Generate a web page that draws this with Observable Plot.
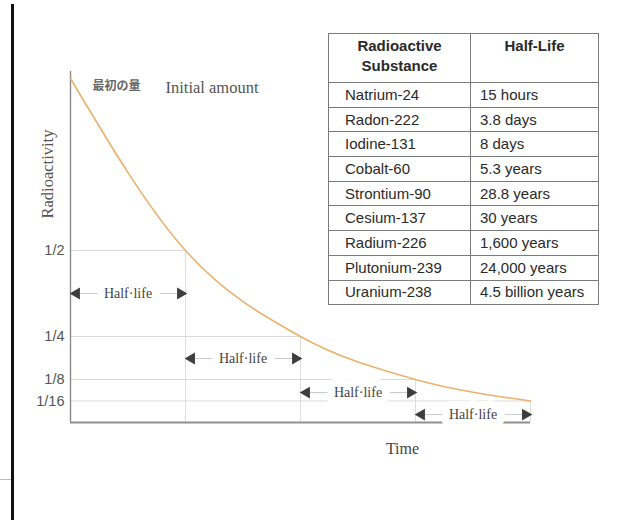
<!DOCTYPE html>
<html>
<head>
<meta charset="utf-8">
<script src="https://cdn.jsdelivr.net/npm/d3@7"></script>
<script src="https://cdn.jsdelivr.net/npm/@observablehq/plot@0.6"></script>
<style>
  html, body { margin: 0; padding: 0; background: #fff; }
  #wrap { position: relative; width: 624px; height: 520px; overflow: hidden; background: #fff; }
  #edge { position: absolute; left: 11px; top: 4px; width: 3px; height: 516px; background: #111; }
  #tick { position: absolute; left: 0; top: 479px; width: 11px; height: 1px; background: #bbb; }
  table.hl { position: absolute; left: 328px; top: 33px; width: 271px; border-collapse: collapse;
    font-family: "Liberation Sans", Arial, sans-serif; font-size: 15px; color: #2a2a2a; }
  table.hl td, table.hl th { border: 1px solid #7a7a7a; padding: 0; box-sizing: border-box; }
  table.hl th { font-weight: bold; vertical-align: top; text-align: center; padding-top: 2px; line-height: 20px; height: 49px; }
  table.hl td { height: 24.7px; line-height: 20px; vertical-align: middle; }
  table.hl td.c1 { padding-left: 16px; width: 142px; }
  table.hl td.c2 { padding-left: 9px; }
</style>
</head>
<body>
<div id="wrap"><div id="edge"></div><div id="tick"></div></div>
<script>
// ---- data ----
const periods = [0, 1, 2, 3, 4];                 // elapsed half-lives
const fractions = [1, 1/2, 1/4, 1/8, 1/16];      // remaining radioactivity
const tickLabels = ["1", "1/2", "1/4", "1/8", "1/16"];
const arrowLevels = [0.375, 0.186, 0.087, 0.023]; // height of each "Half·life" arrow
const substances = ["Natrium-24", "Radon-222", "Iodine-131", "Cobalt-60", "Strontium-90",
  "Cesium-137", "Radium-226", "Plutonium-239", "Uranium-238"];
const halfLives = ["15 hours", "3.8 days", "8 days", "5.3 years", "28.8 years",
  "30 years", "1,600 years", "24,000 years", "4.5 billion years"];

const decay = periods.map((t, i) => ({t, f: fractions[i], label: tickLabels[i]}));
const steps = decay.slice(1);
const arrows = arrowLevels.map((y, i) => ({start: periods[i], end: periods[i + 1], y}));

const serif = "'Liberation Serif', 'DejaVu Serif', serif";
const sans = "'Liberation Sans', Arial, sans-serif";

const chart = Plot.plot({
  width: 624,
  height: 520,
  marginLeft: 70,
  marginRight: 94,
  marginTop: 78,
  marginBottom: 98,
  x: {domain: [0, 4], axis: null},
  y: {domain: [0, 1], axis: null},
  style: {background: "transparent", overflow: "visible"},
  marks: [
    // step grid
    Plot.ruleY(steps, {y: "f", x1: 0, x2: "t", stroke: "#cfcfcf", strokeWidth: 0.8}),
    Plot.ruleX(steps, {x: "t", y1: 0, y2: "f", stroke: "#d6d6d6", strokeWidth: 0.8}),
    // axes
    Plot.ruleX([0], {y1: 0, y2: 1.02, stroke: "#8a8a8a", strokeWidth: 1.4}),
    Plot.ruleY([0], {x1: 0, x2: 4, stroke: "#8f8f8f", strokeWidth: 2}),
    // y tick labels
    Plot.text(steps, {x: 0, y: "f", text: "label", textAnchor: "end", dx: -6,
      fontFamily: sans, fontSize: 14.5, fill: "#555"}),
    // decay curve
    Plot.line(decay, {x: "t", y: "f", curve: "monotone-x", stroke: "#eab26c", strokeWidth: 1.6}),
    // half-life arrows
    Plot.ruleY(arrows, {y: "y", x1: "start", x2: "end", stroke: "#bdbdbd", strokeWidth: 0.8,
      insetLeft: 8, insetRight: 8}),
    Plot.text(arrows, {x: d => (d.start + d.end) / 2, y: "y", text: () => "Half\u00b7life",
      fontFamily: serif, fontSize: 14, fill: "#444", stroke: "white", strokeWidth: 16,
      paintOrder: "stroke"}),
    Plot.dot(arrows, {x: "start", y: "y", symbol: "triangle", rotate: -90, dx: 6, r: 4.4, fill: "#3d3d3d", stroke: null}),
    Plot.dot(arrows, {x: "end", y: "y", symbol: "triangle", rotate: 90, dx: -5, r: 4.4, fill: "#3d3d3d", stroke: null}),
    // labels
    Plot.text(["Radioactivity"], {frameAnchor: "left", dx: -23, dy: -32, rotate: -90,
      text: d => d, fontFamily: serif, fontSize: 16.5, fill: "#555"}),
    Plot.text(["Time"], {frameAnchor: "bottom", dx: 102, dy: 31, text: d => d,
      fontFamily: serif, fontSize: 16, fill: "#444"}),
    Plot.text(["最初の量"], {frameAnchor: "top-left", dx: 22, dy: 3, text: d => d,
      fontFamily: "'Noto Sans CJK JP', sans-serif", fontSize: 12, fontWeight: "bold", fill: "#666"}),
    Plot.text(["Initial amount"], {frameAnchor: "top-left", dx: 95, dy: 3, text: d => d,
      fontFamily: serif, fontSize: 16.5, fill: "#555"})
  ]
});
const wrap = document.getElementById("wrap");
chart.style.position = "absolute";
chart.style.left = "0";
chart.style.top = "0";
wrap.appendChild(chart);

// half-life table
const table = document.createElement("table");
table.className = "hl";
const head = table.insertRow();
["Radioactive<br>Substance", "Half-Life"].forEach(h => {
  const th = document.createElement("th");
  th.innerHTML = h;
  head.appendChild(th);
});
substances.forEach((s, i) => {
  const r = table.insertRow();
  const a = r.insertCell(); a.className = "c1"; a.textContent = s;
  const b = r.insertCell(); b.className = "c2"; b.textContent = halfLives[i];
});
wrap.appendChild(table);
</script>
</body>
</html>
